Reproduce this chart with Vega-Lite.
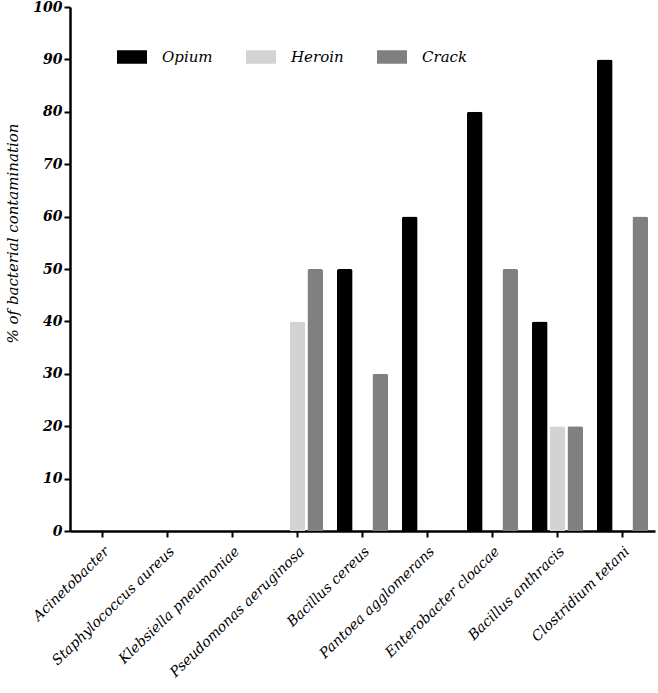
{
  "$schema": "https://vega.github.io/schema/vega-lite/v6.json",
  "width": 585,
  "height": 524,
  "autosize": {"type": "none"},
  "padding": {"left": 70, "top": 7, "right": 3, "bottom": 162},
  "background": "white",
  "config": {
    "view": {"stroke": null},
    "font": "DejaVu Serif"
  },
  "data": {
    "values": [
      {"bacteria": "Acinetobacter", "drug": "Opium", "value": 0},
      {"bacteria": "Acinetobacter", "drug": "Heroin", "value": 0},
      {"bacteria": "Acinetobacter", "drug": "Crack", "value": 0},
      {"bacteria": "Staphylococcus aureus", "drug": "Opium", "value": 0},
      {"bacteria": "Staphylococcus aureus", "drug": "Heroin", "value": 0},
      {"bacteria": "Staphylococcus aureus", "drug": "Crack", "value": 0},
      {"bacteria": "Klebsiella pneumoniae", "drug": "Opium", "value": 0},
      {"bacteria": "Klebsiella pneumoniae", "drug": "Heroin", "value": 0},
      {"bacteria": "Klebsiella pneumoniae", "drug": "Crack", "value": 0},
      {"bacteria": "Pseudomonas aeruginosa", "drug": "Opium", "value": 0},
      {"bacteria": "Pseudomonas aeruginosa", "drug": "Heroin", "value": 40},
      {"bacteria": "Pseudomonas aeruginosa", "drug": "Crack", "value": 50},
      {"bacteria": "Bacillus cereus", "drug": "Opium", "value": 50},
      {"bacteria": "Bacillus cereus", "drug": "Heroin", "value": 0},
      {"bacteria": "Bacillus cereus", "drug": "Crack", "value": 30},
      {"bacteria": "Pantoea agglomerans", "drug": "Opium", "value": 60},
      {"bacteria": "Pantoea agglomerans", "drug": "Heroin", "value": 0},
      {"bacteria": "Pantoea agglomerans", "drug": "Crack", "value": 0},
      {"bacteria": "Enterobacter cloacae", "drug": "Opium", "value": 80},
      {"bacteria": "Enterobacter cloacae", "drug": "Heroin", "value": 0},
      {"bacteria": "Enterobacter cloacae", "drug": "Crack", "value": 50},
      {"bacteria": "Bacillus anthracis", "drug": "Opium", "value": 40},
      {"bacteria": "Bacillus anthracis", "drug": "Heroin", "value": 20},
      {"bacteria": "Bacillus anthracis", "drug": "Crack", "value": 20},
      {"bacteria": "Clostridium tetani", "drug": "Opium", "value": 90},
      {"bacteria": "Clostridium tetani", "drug": "Heroin", "value": 0},
      {"bacteria": "Clostridium tetani", "drug": "Crack", "value": 60}
    ]
  },
  "mark": {"type": "bar", "cornerRadiusTopLeft": 2, "cornerRadiusTopRight": 2},
  "encoding": {
    "x": {
      "field": "bacteria",
      "type": "nominal",
      "sort": null,
      "scale": {"paddingInner": 0.215, "paddingOuter": 0.1075},
      "axis": {
        "title": null,
        "labelAngle": -44,
        "labelFont": "DejaVu Serif",
        "labelFontStyle": "italic",
        "labelFontSize": 14,
        "labelColor": "black",
        "labelPadding": 7,
        "labelLimit": 300,
        "domainColor": "black",
        "domainWidth": 2.5,
        "tickColor": "black",
        "tickWidth": 2,
        "tickSize": 6
      }
    },
    "xOffset": {
      "field": "drug",
      "type": "nominal",
      "sort": ["Opium", "Heroin", "Crack"],
      "scale": {"paddingInner": 0.12, "paddingOuter": 0}
    },
    "y": {
      "field": "value",
      "type": "quantitative",
      "scale": {"domain": [0, 100], "nice": false},
      "axis": {
        "title": "% of bacterial contamination",
        "titleFont": "DejaVu Serif",
        "titleFontStyle": "italic",
        "titleFontWeight": "normal",
        "titleFontSize": 15,
        "titleColor": "black",
        "titlePadding": 12,
        "titleY": 226,
        "values": [0, 10, 20, 30, 40, 50, 60, 70, 80, 90, 100],
        "grid": false,
        "labelFont": "DejaVu Serif",
        "labelFontStyle": "italic",
        "labelFontWeight": "bold",
        "labelFontSize": 14,
        "labelColor": "black",
        "labelPadding": 2,
        "domainColor": "black",
        "domainWidth": 2.5,
        "tickColor": "black",
        "tickWidth": 2,
        "tickSize": 6
      }
    },
    "color": {
      "field": "drug",
      "type": "nominal",
      "sort": ["Opium", "Heroin", "Crack"],
      "scale": {"domain": ["Opium", "Heroin", "Crack"], "range": ["#000000", "#d3d3d3", "#808080"]},
      "legend": {
        "title": null,
        "orient": "none",
        "direction": "horizontal",
        "legendX": 47,
        "legendY": 35,
        "padding": 0,
        "symbolType": "M-1,-0.45 L1,-0.45 L1,0.45 L-1,0.45 Z",
        "symbolSize": 900,
        "symbolStrokeWidth": 0,
        "labelFont": "DejaVu Serif",
        "labelFontStyle": "italic",
        "labelFontSize": 15,
        "labelColor": "black",
        "labelOffset": 15,
        "columnPadding": 33
      }
    }
  }
}
